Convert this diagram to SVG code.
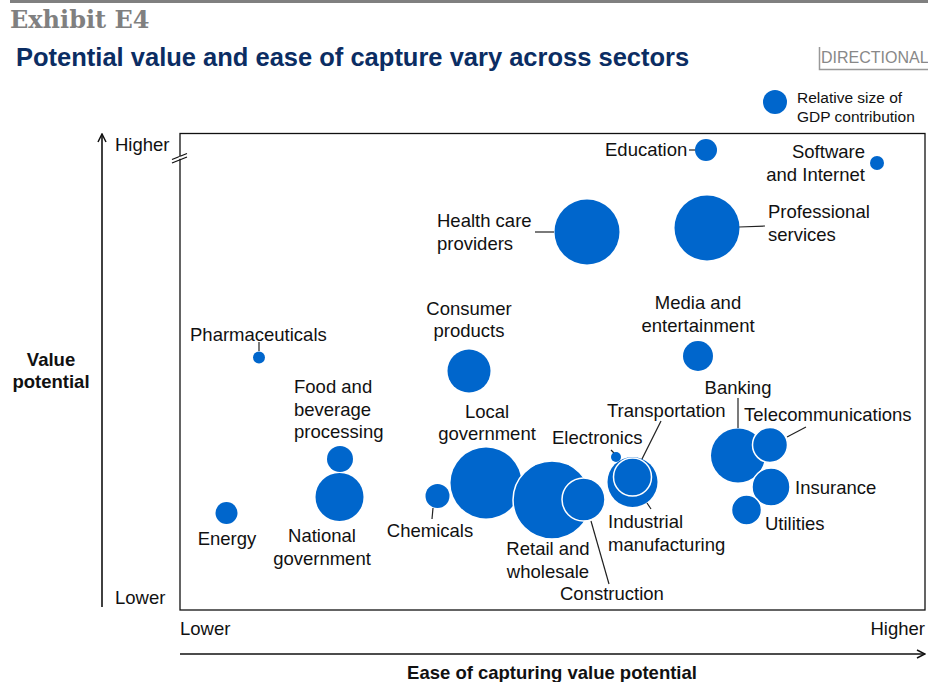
<svg xmlns="http://www.w3.org/2000/svg" width="928" height="682" viewBox="0 0 928 682">
<style>
text{font-family:"Liberation Sans",Arial,sans-serif;fill:#111;}
.lbl{font-size:18.5px;}
.b{fill:#0066CC;}
.bw{fill:#0066CC;stroke:#fff;stroke-width:1.5;}
.ln{stroke:#222;stroke-width:1.2;fill:none;}
.ax{stroke:#111;stroke-width:1.6;fill:none;}
</style>
<defs>
<marker id="chev" viewBox="0 0 10 10" refX="9" refY="5" markerWidth="10" markerHeight="10" markerUnits="userSpaceOnUse" orient="auto">
<path d="M1,1 L9,5 L1,9" fill="none" stroke="#111" stroke-width="1.5"/>
</marker>
</defs>
<rect width="928" height="682" fill="#fff"/>
<g id="header">
<line x1="10" y1="1.5" x2="928" y2="1.5" stroke="#808080" stroke-width="3"/>
<text x="10" y="28" style="font-family:'DejaVu Serif','Liberation Serif',serif;font-size:24px;font-weight:bold;fill:#808080">Exhibit E4</text>
<text x="16" y="66" style="font-size:25.5px;font-weight:bold;fill:#0B2D63">Potential value and ease of capture vary across sectors</text>
<path d="M819.5,47 V69.5 H928" fill="none" stroke="#999" stroke-width="1.5"/>
<text x="821" y="63" style="font-size:16px;fill:#888">DIRECTIONAL</text>
</g>
<g id="legend">
<circle class="b" cx="775" cy="102" r="12"/>
<text x="797" y="103" style="font-size:15.5px">Relative size of</text>
<text x="797" y="122" style="font-size:15.5px">GDP contribution</text>
</g>
<g id="axes">
<rect x="180" y="133.5" width="745" height="476.5" fill="none" stroke="#111" stroke-width="1.3"/>
<line x1="172" y1="159.5" x2="187" y2="153.5" stroke="#111" stroke-width="1.2"/>
<line x1="172" y1="163" x2="187" y2="157" stroke="#111" stroke-width="1.2"/>
<line x1="179" y1="158" x2="181" y2="157.5" stroke="#fff" stroke-width="2"/>
<line class="ax" x1="102" y1="607" x2="102" y2="134" marker-end="url(#chev)"/>
<line class="ax" x1="180" y1="654" x2="925" y2="654" marker-end="url(#chev)"/>
<text class="lbl" x="115" y="151">Higher</text>
<text class="lbl" x="115" y="604">Lower</text>
<text class="lbl" x="180" y="635">Lower</text>
<text class="lbl" x="925" y="635" text-anchor="end">Higher</text>
<text x="51" y="366" text-anchor="middle" style="font-size:18.5px;font-weight:bold">Value</text>
<text x="51" y="388" text-anchor="middle" style="font-size:18.5px;font-weight:bold">potential</text>
<text x="552" y="679" text-anchor="middle" style="font-size:18.5px;font-weight:bold">Ease of capturing value potential</text>
</g>
<g id="connectors">
<line class="ln" x1="689" y1="150" x2="695" y2="150"/>
<line class="ln" x1="535" y1="232" x2="554" y2="232"/>
<line class="ln" x1="739" y1="227" x2="765" y2="226"/>
<line class="ln" x1="259" y1="342" x2="259" y2="351"/>
<line class="ln" x1="611" y1="450" x2="614" y2="453"/>
<line class="ln" x1="661" y1="421" x2="641" y2="461"/>
<line class="ln" x1="738" y1="398" x2="738" y2="428"/>
<line class="ln" x1="806" y1="427" x2="787" y2="437"/>
<line class="ln" x1="647" y1="503" x2="651" y2="509"/>
<line class="ln" x1="433" y1="508" x2="432" y2="519"/>
<line class="ln" x1="591" y1="521" x2="609" y2="584"/>
</g>
<g id="education"><circle class="b" cx="706" cy="150" r="11"/><text class="lbl" x="605" y="156">Education</text></g>
<g id="software"><circle class="b" cx="877" cy="163" r="7"/><text class="lbl" x="865" y="158" text-anchor="end">Software</text><text class="lbl" x="865" y="181" text-anchor="end">and Internet</text></g>
<g id="healthcare"><circle class="b" cx="587" cy="232" r="32.5"/><text class="lbl" x="437" y="227">Health care</text><text class="lbl" x="437" y="250">providers</text></g>
<g id="professional"><circle class="b" cx="707" cy="228" r="32.5"/><text class="lbl" x="768" y="218">Professional</text><text class="lbl" x="768" y="241">services</text></g>
<g id="media"><circle class="b" cx="698" cy="356" r="15"/><text class="lbl" x="698" y="309" text-anchor="middle">Media and</text><text class="lbl" x="698" y="332" text-anchor="middle">entertainment</text></g>
<g id="pharma"><circle class="b" cx="259" cy="357.5" r="6"/><text class="lbl" x="190" y="341">Pharmaceuticals</text></g>
<g id="consumer"><circle class="b" cx="469" cy="371" r="21.5"/><text class="lbl" x="469" y="315" text-anchor="middle">Consumer</text><text class="lbl" x="469" y="337" text-anchor="middle">products</text></g>
<g id="food"><circle class="b" cx="340" cy="459" r="13"/><text class="lbl" x="294" y="393">Food and</text><text class="lbl" x="294" y="416">beverage</text><text class="lbl" x="294" y="438">processing</text></g>
<g id="national"><circle class="b" cx="339.5" cy="497" r="24"/><text class="lbl" x="322" y="542" text-anchor="middle">National</text><text class="lbl" x="322" y="565" text-anchor="middle">government</text></g>
<g id="energy"><circle class="b" cx="226.5" cy="513" r="11"/><text class="lbl" x="227" y="545" text-anchor="middle">Energy</text></g>
<g id="chemicals"><circle class="b" cx="437.5" cy="496" r="12"/><text class="lbl" x="430" y="537" text-anchor="middle">Chemicals</text></g>
<g id="localgov"><circle class="b" cx="486" cy="483" r="35.5"/><text class="lbl" x="487" y="418" text-anchor="middle">Local</text><text class="lbl" x="487" y="440" text-anchor="middle">government</text></g>
<g id="retail"><circle class="bw" cx="552" cy="500" r="39"/><text class="lbl" x="548" y="555" text-anchor="middle">Retail and</text><text class="lbl" x="548" y="578" text-anchor="middle">wholesale</text></g>
<g id="construction"><circle class="bw" cx="583.5" cy="499.5" r="21.5"/><text class="lbl" x="560" y="600">Construction</text></g>
<g id="electronics"><circle class="b" cx="616" cy="457" r="5"/><text class="lbl" x="552" y="444">Electronics</text></g>
<g id="industrial"><circle class="b" cx="632.5" cy="482" r="25"/><text class="lbl" x="608" y="528">Industrial</text><text class="lbl" x="608" y="551">manufacturing</text></g>
<g id="transportation"><circle class="bw" cx="632.5" cy="477" r="19"/><text class="lbl" x="607" y="417">Transportation</text></g>
<g id="banking"><circle class="b" cx="738" cy="455.5" r="27"/><text class="lbl" x="738" y="394" text-anchor="middle">Banking</text></g>
<g id="telecom"><circle class="bw" cx="770" cy="445" r="17.5"/><text class="lbl" x="744" y="421">Telecommunications</text></g>
<g id="insurance"><circle class="bw" cx="771" cy="487" r="19"/><text class="lbl" x="795" y="494">Insurance</text></g>
<g id="utilities"><circle class="bw" cx="746.5" cy="510" r="15"/><text class="lbl" x="765" y="530">Utilities</text></g>
</svg>
